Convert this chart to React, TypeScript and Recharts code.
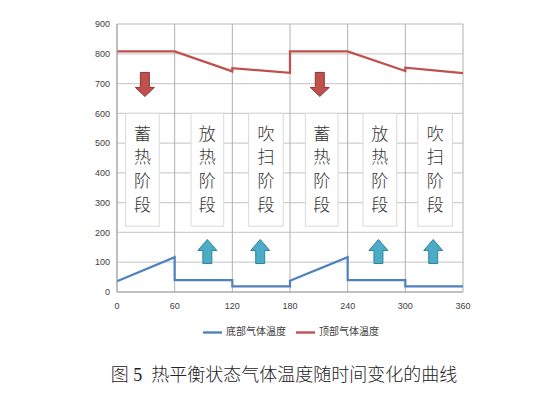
import React from 'react';
import {
  LineChart, Line, XAxis, YAxis, CartesianGrid, Legend, ReferenceArea, ReferenceDot,
} from 'recharts';

// Bottom gas temperature (底部气体温度)
const bottomX = [0, 60, 60, 120, 120, 180, 180, 240, 240, 300, 300, 360];
const bottomY = [36, 117, 40, 40, 19, 19, 38, 117, 40, 40, 19, 19];
// Top gas temperature (顶部气体温度)
const topX = [0, 60, 120, 120, 180, 180, 240, 300, 300, 360];
const topY = [808, 808, 741, 752, 736, 808, 808, 742, 753, 735];

const xTicks = [0, 60, 120, 180, 240, 300, 360];
const yTicks = [0, 100, 200, 300, 400, 500, 600, 700, 800, 900];

// Stage annotation boxes
const stageTexts = ['蓄热阶段', '放热阶段', '吹扫阶段', '蓄热阶段', '放热阶段', '吹扫阶段'];
const stageX1 = [9, 77, 137, 196, 256, 313];
const stageX2 = [44, 111, 173, 230, 291, 349];
const stageTop = 600;
const stageBottom = 221;

// Arrows
const redArrowX = [29, 211];
const redArrowY = 697;
const blueArrowX = [94, 149, 272, 329];
const blueArrowY = 136;

const bottomData = bottomX.map((x, i) => ({ x, v: bottomY[i] }));
const topData = topX.map((x, i) => ({ x, v: topY[i] }));

const CJK = '"Noto Sans CJK SC", "Liberation Sans", sans-serif';

const StageShape = (props: any) => {
  const { x, y, width, height, text } = props;
  const chars = String(text).split('');
  const cx = x + width / 2;
  const cy = y + height / 2 - 2;
  const step = 23.7;
  const start = cy - ((chars.length - 1) * step) / 2;
  return (
    <g>
      <rect x={x} y={y} width={width} height={height} fill="#ffffff" stroke="#d9d9d9" strokeWidth={1} />
      {chars.map((c, i) => (
        <text
          key={i}
          x={cx}
          y={start + i * step}
          textAnchor="middle"
          dominantBaseline="central"
          fontSize={17}
          fontFamily={CJK}
          fontWeight={300}
          fill="#333333"
        >
          {c}
        </text>
      ))}
    </g>
  );
};

const RedArrow = (props: any) => {
  const { cx, cy } = props;
  if (cx == null || cy == null) return null;
  const top = cy - 12, headBase = cy + 3, tip = cy + 12;
  const d = `M${cx - 4.5},${top} L${cx + 4.5},${top} L${cx + 4.5},${headBase} L${cx + 9.5},${headBase} L${cx},${tip} L${cx - 9.5},${headBase} L${cx - 4.5},${headBase} Z`;
  return <path d={d} fill="#c0504d" stroke="#8c3836" strokeWidth={1} />;
};

const BlueArrow = (props: any) => {
  const { cx, cy } = props;
  if (cx == null || cy == null) return null;
  const tip = cy - 12, headBase = cy - 1, bottom = cy + 12;
  const d = `M${cx},${tip} L${cx + 9.5},${headBase} L${cx + 4.5},${headBase} L${cx + 4.5},${bottom} L${cx - 4.5},${bottom} L${cx - 4.5},${headBase} L${cx - 9.5},${headBase} Z`;
  return <path d={d} fill="#4bacc6" stroke="#31849b" strokeWidth={1} />;
};

export default function App() {
  return (
    <div style={{ position: 'absolute', left: 0, top: 0, width: 548, height: 393, background: '#fff' }}>
      <LineChart
        width={548}
        height={345}
        margin={{ top: 24, right: 85, left: 87, bottom: 23 }}
      >
        <CartesianGrid vertical={false} stroke="#cfcfcf" strokeWidth={1.3} />
        <CartesianGrid horizontal={false} stroke="#b0b0b0" />
        <XAxis
          type="number"
          dataKey="x"
          domain={[0, 360]}
          ticks={xTicks}
          allowDuplicatedCategory={false}
          height={30}
          tickSize={0}
          tickMargin={11}
          axisLine={{ stroke: '#a6a6a6' }}
          tick={{ fontSize: 9, fill: '#404040', fontFamily: '"Liberation Sans", sans-serif' }}
        />
        <YAxis
          type="number"
          domain={[0, 900]}
          ticks={yTicks}
          width={30}
          tickSize={0}
          tickMargin={7}
          axisLine={{ stroke: '#a6a6a6' }}
          tick={{ fontSize: 9, fill: '#404040', fontFamily: '"Liberation Sans", sans-serif' }}
        />
        {stageTexts.map((t, i) => (
          <ReferenceArea
            key={'s' + i}
            x1={stageX1[i]}
            x2={stageX2[i]}
            y1={stageBottom}
            y2={stageTop}
            shape={(p: any) => <StageShape {...p} text={t} />}
          />
        ))}
        {redArrowX.map((x, i) => (
          <ReferenceDot key={'r' + i} x={x} y={redArrowY} r={1} shape={RedArrow} />
        ))}
        {blueArrowX.map((x, i) => (
          <ReferenceDot key={'b' + i} x={x} y={blueArrowY} r={1} shape={BlueArrow} />
        ))}
        <Line
          data={bottomData}
          dataKey="v"
          name="底部气体温度"
          type="linear"
          stroke="#4f81bd"
          strokeWidth={2.2}
          dot={false}
          legendType="plainline"
          isAnimationActive={false}
        />
        <Line
          data={topData}
          dataKey="v"
          name="顶部气体温度"
          type="linear"
          stroke="#c0504d"
          strokeWidth={2.2}
          dot={false}
          legendType="plainline"
          isAnimationActive={false}
        />
        <Legend
          verticalAlign="middle"
          align="center"
          iconSize={19}
          wrapperStyle={{ top: 323, left: 22, width: 548, fontSize: 10, fontFamily: CJK }}
          formatter={(v: any) => <span style={{ color: '#404040' }}>{v}</span>}
        />
      </LineChart>
      <div
        style={{
          position: 'absolute',
          top: 360,
          left: 10,
          width: 548,
          textAlign: 'center',
          fontSize: 18,
          fontWeight: 300,
          fontFamily: '"Liberation Serif", "Noto Sans CJK SC", serif',
          color: '#222',
          whiteSpace: 'pre',
        }}
      >
        {'图 5  热平衡状态气体温度随时间变化的曲线'}
      </div>
    </div>
  );
}
